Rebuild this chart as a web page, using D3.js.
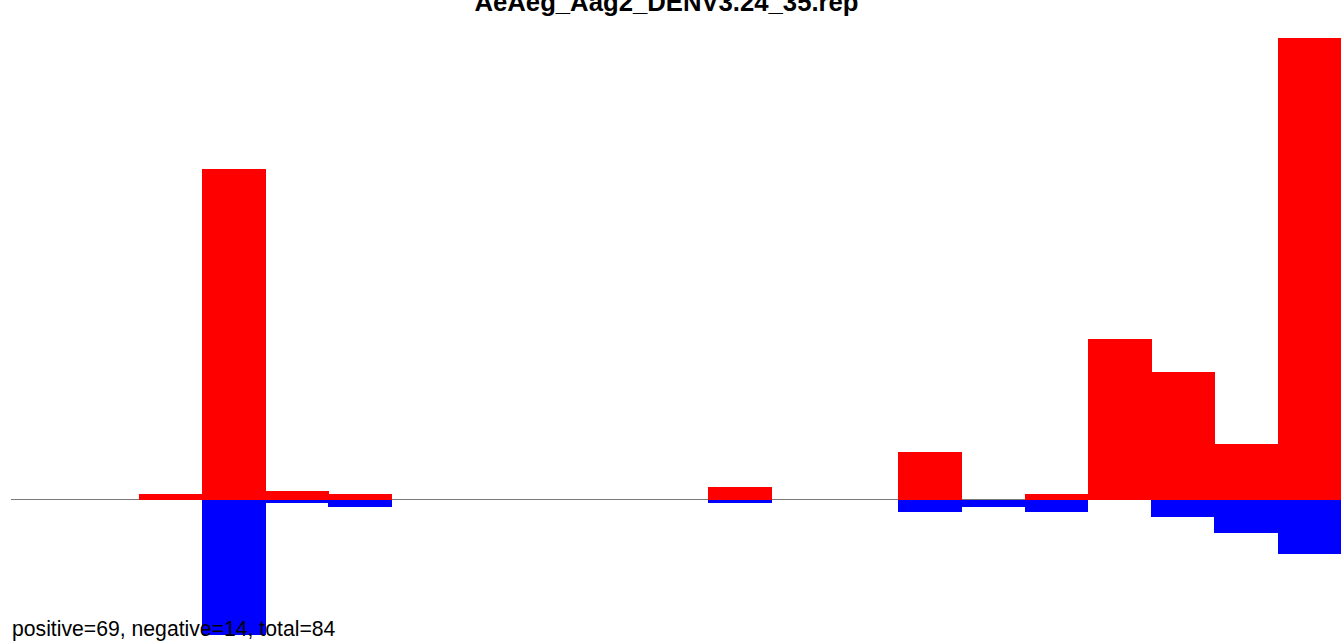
<!DOCTYPE html>
<html>
<head>
<meta charset="utf-8">
<script src="https://cdn.jsdelivr.net/npm/d3@7"></script>
<style>
html,body{margin:0;padding:0;background:#fff;overflow:hidden;}
svg{display:block;}
</style>
</head>
<body>
<svg id="chart" width="1341" height="641"></svg>
<script>
const title = "AeAeg_Aag2_DENV3.24_35.rep";
const footnote = "positive=69, negative=14, total=84";
const categories = ["15","16","17","18","19","20","21","22","23","24","25","26","27","28","29","30","31","32","33","34","35"];
const positiveValues = [0, 0, 1.1, 71.6, 1.9, 1.1, 0, 0, 0, 0, 0, 2.8, 0, 0, 10.2, 0, 1.1, 34.8, 27.7, 12.1, 100];
const negativeValues = [0, 0, 0, 29.3, 0.8, 1.7, 0, 0, 0, 0, 0, 0.8, 0, 0, 2.8, 1.7, 2.8, 0, 3.7, 7.3, 11.9];

const svg = d3.select("#chart");
const x = d3.scaleBand().domain(categories).range([12, 1341]).paddingInner(0).paddingOuter(0);
const y = d3.scaleLinear().domain([0, 100]).range([499.5, 38]);

// baseline
svg.append("line")
  .attr("x1", 11).attr("x2", 1341)
  .attr("y1", y(0)).attr("y2", y(0))
  .attr("stroke", "#7a7a7a").attr("stroke-width", 1.2);

const data = categories.map((c, i) => ({c, p: positiveValues[i], n: negativeValues[i]}));

svg.append("g").attr("shape-rendering", "crispEdges")
  .selectAll("rect").data(data.filter(d => d.p > 0)).join("rect")
  .attr("x", d => x(d.c)).attr("width", x.bandwidth() + 0.5)
  .attr("y", d => y(d.p)).attr("height", d => y(0) - y(d.p))
  .attr("fill", "#ff0000");

svg.append("g").attr("shape-rendering", "crispEdges")
  .selectAll("rect").data(data.filter(d => d.n > 0)).join("rect")
  .attr("x", d => x(d.c)).attr("width", x.bandwidth() + 0.5)
  .attr("y", y(0)).attr("height", d => y(-d.n) - y(0))
  .attr("fill", "#0000ff");

svg.append("text")
  .attr("x", 666.5).attr("y", 10.5)
  .attr("text-anchor", "middle")
  .attr("font-family", "Liberation Sans, Arial, sans-serif")
  .attr("font-weight", "bold")
  .attr("font-size", 25.7)
  .attr("fill", "#000")
  .text(title);

svg.append("text")
  .attr("x", 12).attr("y", 635.5)
  .attr("font-family", "Liberation Sans, Arial, sans-serif")
  .attr("font-size", 21.2)
  .attr("fill", "#000")
  .text(footnote);
</script>
</body>
</html>
